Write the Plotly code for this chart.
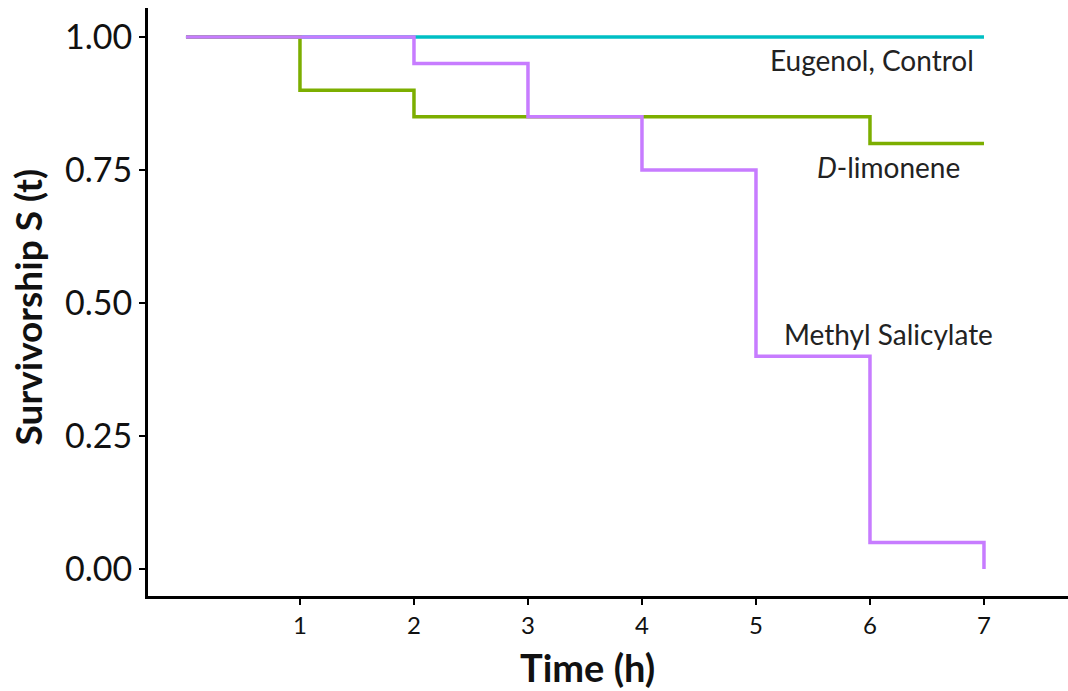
import plotly.graph_objects as go

time_control = [0, 7]
surv_control = [1.00, 1.00]

time_limonene = [0, 1, 2, 6, 7]
surv_limonene = [1.00, 0.90, 0.85, 0.80, 0.80]

time_methyl = [0, 2, 3, 4, 5, 6, 7, 7]
surv_methyl = [1.00, 0.95, 0.85, 0.75, 0.40, 0.05, 0.05, 0.00]

x_ticks = [1, 2, 3, 4, 5, 6, 7]
y_ticks = [0.00, 0.25, 0.50, 0.75, 1.00]
y_tick_labels = ["0.00", "0.25", "0.50", "0.75", "1.00"]

labels = ["Eugenol, Control", "<i>D</i>-limonene", "Methyl Salicylate"]

fig = go.Figure()
fig.add_trace(go.Scatter(x=time_control, y=surv_control, mode="lines",
                         line=dict(color="#00BFC4", width=3.5, shape="hv"), name="Eugenol, Control"))
fig.add_trace(go.Scatter(x=time_limonene, y=surv_limonene, mode="lines",
                         line=dict(color="#7CAE00", width=3.5, shape="hv"), name="D-limonene"))
fig.add_trace(go.Scatter(x=time_methyl, y=surv_methyl, mode="lines",
                         line=dict(color="#C77CFF", width=3.5, shape="hv"), name="Methyl Salicylate"))

ann_pos = [(6.02, 0.957), (6.16, 0.756), (6.16, 0.442)]
for (ax, ay), txt in zip(ann_pos, labels):
    fig.add_annotation(x=ax, y=ay, text=txt, showarrow=False,
                       font=dict(family="Lato", size=28, color="#222222"))

# axis titles
fig.add_annotation(x=0.478, y=-0.121, xref="paper", yref="paper", text="<b>Time (h)</b>",
                   showarrow=False, xanchor="center", yanchor="middle",
                   font=dict(family="Lato", size=38, color="#111111"))
fig.add_annotation(x=-0.130, y=0.4915, xref="paper", yref="paper", text="<b>Survivorship S (t)</b>",
                   showarrow=False, textangle=-90, xanchor="center", yanchor="middle",
                   font=dict(family="Lato", size=37, color="#111111"))

fig.update_layout(
    width=1068, height=691,
    margin=dict(l=148, r=0, t=8, b=95),
    plot_bgcolor="white", paper_bgcolor="white",
    showlegend=False,
    font=dict(family="Lato", color="#111111"),
)
fig.update_xaxes(range=[-0.333, 7.737], tickvals=x_ticks,
                 showline=True, linecolor="black", linewidth=3,
                 ticks="outside", ticklen=6, tickwidth=2, tickcolor="black",
                 showgrid=False, zeroline=False,
                 tickfont=dict(family="Lato", size=24, color="#111111"))
fig.update_yaxes(range=[-0.0508, 1.0545], tickvals=y_ticks, ticktext=y_tick_labels,
                 showline=True, linecolor="black", linewidth=3,
                 ticks="outside", ticklen=6, tickwidth=2, tickcolor="black",
                 showgrid=False, zeroline=False,
                 tickfont=dict(family="Lato", size=34, color="#111111"))

fig.write_html("out.html")
